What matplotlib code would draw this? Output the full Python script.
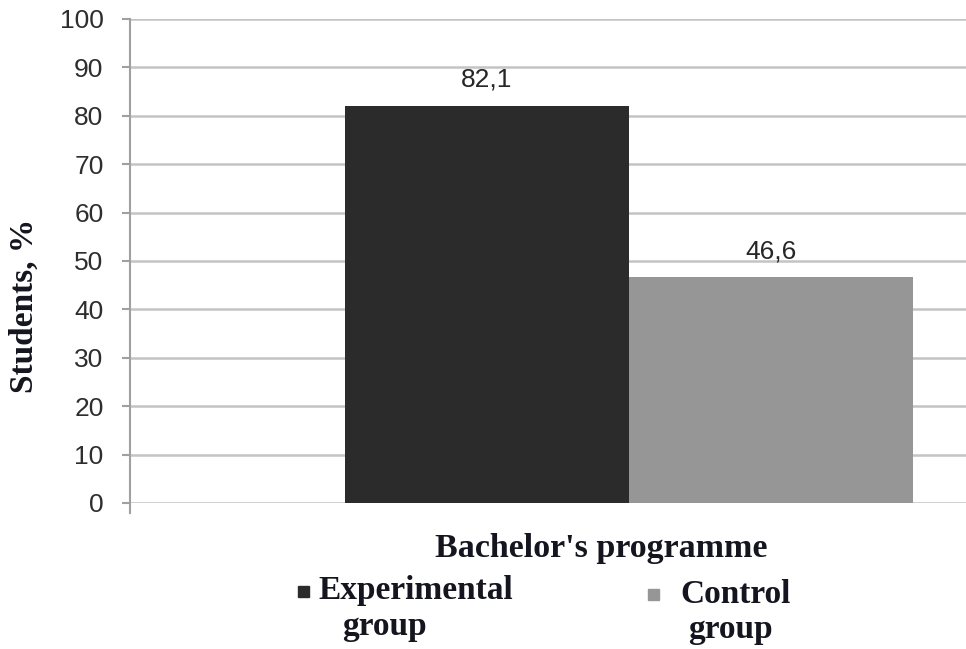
import matplotlib
matplotlib.use("Agg")
import matplotlib.pyplot as plt
from matplotlib.patches import Rectangle

# data
groups = ["Experimental\ngroup", "Control\ngroup"]
values = [82.1, 46.6]
colors = ["#2b2b2b", "#969696"]
category = "Bachelor's programme"
yticks = list(range(0, 101, 10))

W, H = 966, 649
fig = plt.figure(figsize=(W / 100, H / 100), dpi=100, facecolor="white")
ax = fig.add_axes([130 / W, 1 - 503 / H, (W - 130) / W, (503 - 19) / H])

serif = dict(family="Liberation Serif", weight="bold", color="#15151f")

# bars sit side by side around the category centre
width = 0.4
offsets = [-width / 2, width / 2]
for off, v, c in zip(offsets, values, colors):
    ax.bar(off, v, width=width, color=c, zorder=3)
    ax.annotate(f"{v:.1f}".replace(".", ","), (off, v), xytext=(0, 10),
                textcoords="offset points", ha="center", va="bottom",
                fontsize=19, family="Liberation Sans", color="#262626")

ax.set_xlim(-0.702, 0.474)
ax.set_ylim(0, 100)
ax.set_yticks(yticks)
ax.set_xticks([])
ax.tick_params(axis="y", length=6, width=1.5, color="#a0a0a0", pad=13,
               labelsize=19, labelcolor="#2e2e2e")
for lab in ax.get_yticklabels():
    lab.set_family("Liberation Sans")
ax.grid(axis="y", color="#c4c4c4", linewidth=1.8, zorder=0)
ax.set_axisbelow(True)
for s in ["top", "right", "bottom"]:
    ax.spines[s].set_visible(False)
ax.spines["left"].set_color("#a0a0a0")
ax.spines["left"].set_linewidth(1.5)
ax.spines["left"].set_bounds(-2, 100)

# axis titles
fig.text(24 / W, 1 - 306 / H, "Students, %", rotation=90, ha="center",
         va="center", fontsize=24, **serif)
fig.text(601 / W, 1 - 557 / H, category, ha="center", va="baseline",
         fontsize=24.5, **serif)

# legend drawn by hand
legend_pos = [
    # square x, square y, first line x/y, second line x/y
    (298, 586, (318, 599), (342, 635)),
    (648, 589, (680, 603), (688, 638)),
]
for (sx, sy, l1, l2), name, c in zip(legend_pos, groups, colors):
    fig.patches.append(Rectangle((sx / W, 1 - (sy + 11) / H), 11 / W, 11 / H,
                                 transform=fig.transFigure, color=c))
    first, second = name.split("\n")
    fig.text(l1[0] / W, 1 - l1[1] / H, first, ha="left", va="baseline",
             fontsize=24, **serif)
    fig.text(l2[0] / W, 1 - l2[1] / H, second, ha="left", va="baseline",
             fontsize=24, **serif)

fig.savefig("out.png", dpi=100, facecolor="white")
